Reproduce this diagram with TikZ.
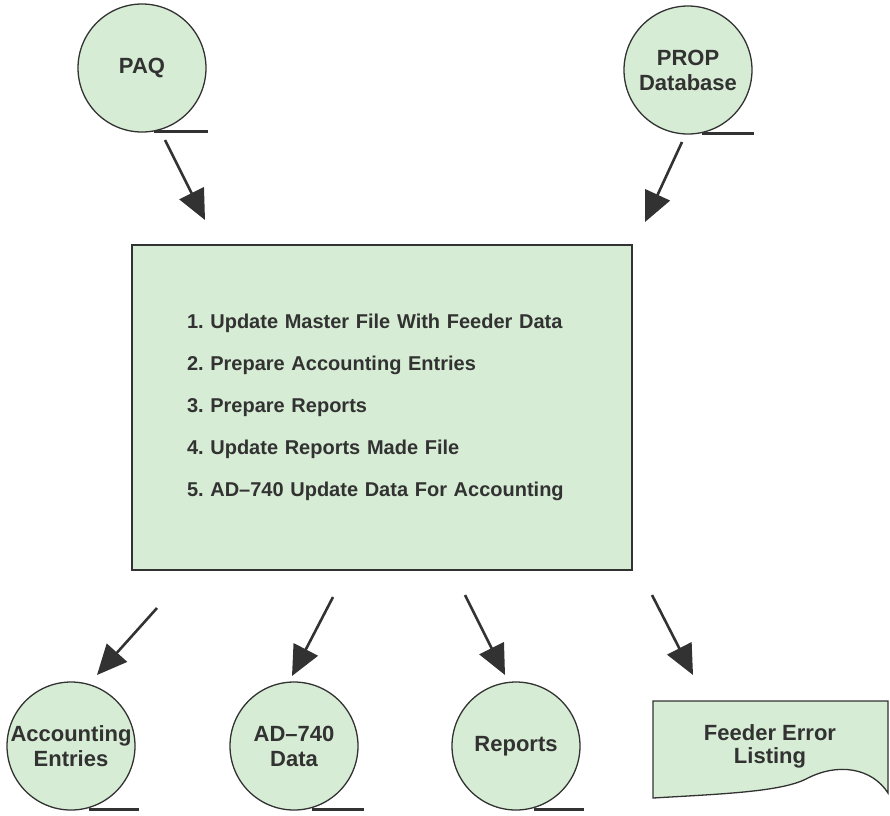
\documentclass[tikz,border=0pt]{standalone}
\usepackage{fontspec}
\setmainfont{Liberation Sans}
\usetikzlibrary{arrows.meta,calc}
\definecolor{fillg}{RGB}{214,236,212}
\definecolor{ink}{RGB}{50,50,50}
\frenchspacing
\begin{document}
\begin{tikzpicture}[x=1pt,y=-1pt,
  store/.style={circle,draw=ink,line width=1.3pt,fill=fillg,minimum size=128pt,inner sep=0pt,align=center,
    font=\fontsize{22}{25}\selectfont\bfseries,text=ink},
  tail/.style={line width=3.4pt,draw=ink},
  flow/.style={line width=2.6pt,draw=ink,-{Triangle[length=30pt,width=27pt]}},
  procbox/.style={rectangle,draw=ink,line width=1.4pt,fill=fillg,minimum width=500pt,minimum height=325pt,
    inner xsep=55pt,text width=390pt,align=left,font=\fontsize{20}{42}\selectfont\bfseries\frenchspacing,text=ink},
  doclabel/.style={align=center,font=\fontsize{22}{23}\selectfont\bfseries,text=ink}]
\useasboundingbox (0,0) rectangle (890,815);
% sources
\node[store] (paq) at (142,68) {PAQ};
\draw[tail] ($(paq.south)+(12,-1)$) -- ++(54,0);
\node[store] (prop) at (688,70) {PROP\\Database};
\draw[tail] ($(prop.south)+(14,-1)$) -- ++(52,0);
% process
\node[procbox] (main) at (382,407.5) {1. Update Master File With Feeder Data\\
2. Prepare Accounting Entries\\
3. Prepare Reports\\
4. Update Reports Made File\\
5. AD--740 Update Data For Accounting};
% outputs
\node[store] (acc) at (71,746) {Accounting\\Entries};
\draw[tail] ($(acc.south)+(18,-1)$) -- ++(50,0);
\node[store] (ad) at (294,746) {AD--740\\Data};
\draw[tail] ($(ad.south)+(18,-1)$) -- ++(52,0);
\node[store] (rep) at (516,746) {Reports};
\draw[tail] ($(rep.south)+(18,-1)$) -- ++(50,0);
\draw[ink,line width=1.3pt,fill=fillg] (653,701) -- (888,701) -- (888,793)
  .. controls (872,768) and (838,762) .. (806,779)
  .. controls (780,792) and (720,794) .. (653,798) -- cycle;
\node[doclabel] (feeder) at (770,746) {Feeder Error\\Listing};
% arrow end points
\coordinate (a1s) at (165,140); \coordinate (a1e) at (205,220);
\coordinate (a2s) at (682,142); \coordinate (a2e) at (645,222);
\coordinate (a3s) at (157,608); \coordinate (a3e) at (97,675);
\coordinate (a4s) at (333,597); \coordinate (a4e) at (292,676);
\coordinate (a5s) at (465,595); \coordinate (a5e) at (505,675);
\coordinate (a6s) at (652,595); \coordinate (a6e) at (693,675);
\draw[flow] (a1s) -- (a1e);
\draw[flow] (a2s) -- (a2e);
\draw[flow] (a3s) -- (a3e);
\draw[flow] (a4s) -- (a4e);
\draw[flow] (a5s) -- (a5e);
\draw[flow] (a6s) -- (a6e);
\end{tikzpicture}
\end{document}
